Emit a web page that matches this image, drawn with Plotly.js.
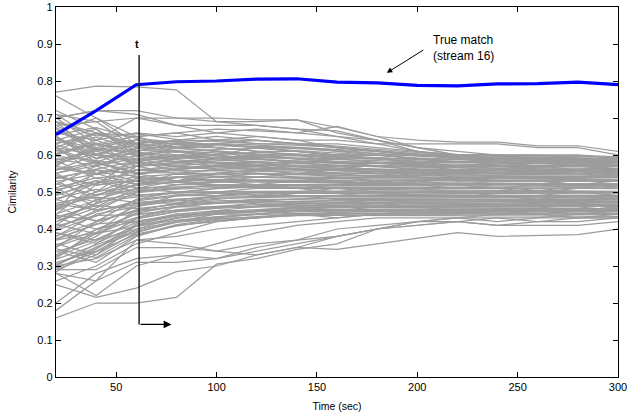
<!DOCTYPE html>
<html>
<head>
<meta charset="utf-8">
<script src="https://cdn.plot.ly/plotly-3.0.1.min.js"></script>
<style>html,body{margin:0;padding:0;background:#fff;}#chart{width:629px;height:419px;}</style>
</head>
<body>
<div id="chart"></div>
<script>
// Time axis (sec)
const time = [20, 40, 60, 80, 100, 120, 140, 160, 180, 200, 220, 240, 260, 280, 300];

// True match (stream 16)
const trueMatch = [0.655, 0.72, 0.79, 0.798, 0.80, 0.805, 0.806, 0.797, 0.795, 0.788, 0.787, 0.792, 0.793, 0.797, 0.79];

// Other (non-matching) streams
const otherStreams = [
  // high outliers
  [.77,.786,.784,.776,.69,.68,.67,.665,.64,.61,.60,.59,.59,.58,.58],
  [.76,.70,.63,.62,.63,.62,.61,.60,.60,.59,.58,.58,.57,.57,.57],
  [.70,.72,.72,.70,.69,.69,.695,.675,.65,.64,.635,.635,.625,.625,.61],
  [.71,.69,.70,.70,.70,.695,.695,.66,.64,.62,.60,.59,.59,.58,.58],
  [.69,.66,.65,.66,.67,.665,.66,.677,.65,.62,.60,.60,.60,.60,.595],
  [.70,.72,.71,.68,.68,.68,.67,.65,.63,.63,.63,.63,.62,.62,.60],
  [.72,.67,.60,.62,.63,.62,.61,.60,.60,.59,.58,.58,.58,.57,.57],
  [.68,.69,.62,.64,.65,.64,.63,.62,.61,.60,.60,.59,.59,.59,.58],
  [.71,.64,.66,.65,.66,.67,.66,.65,.64,.62,.61,.60,.60,.60,.59],
  [.66,.70,.65,.66,.64,.65,.64,.64,.63,.61,.59,.59,.58,.58,.58],
  [.64,.67,.61,.63,.63,.64,.63,.63,.62,.61,.60,.60,.60,.59,.59],
  [.69,.60,.64,.62,.62,.61,.61,.60,.60,.59,.58,.58,.58,.58,.57],
  [.60,.64,.70,.68,.66,.65,.64,.62,.61,.60,.59,.59,.59,.58,.58],
  // main band
  [.62,.60,.63,.64,.62,.61,.60,.60,.59,.58,.58,.59,.58,.58,.57],
  [.58,.62,.60,.61,.60,.62,.61,.60,.59,.59,.58,.58,.59,.58,.58],
  [.55,.50,.57,.58,.59,.60,.60,.58,.57,.57,.56,.57,.57,.56,.56],
  [.50,.55,.58,.56,.57,.56,.57,.57,.56,.55,.56,.55,.55,.56,.55],
  [.45,.50,.52,.55,.55,.56,.55,.55,.54,.55,.55,.54,.54,.54,.55],
  [.40,.45,.50,.52,.53,.54,.54,.53,.53,.53,.54,.53,.53,.53,.53],
  [.35,.42,.48,.50,.51,.52,.52,.52,.52,.52,.51,.52,.52,.51,.52],
  [.33,.38,.45,.47,.49,.50,.50,.51,.50,.50,.50,.50,.51,.50,.50],
  [.30,.36,.43,.46,.47,.48,.48,.49,.49,.49,.49,.49,.49,.49,.49],
  [.31,.34,.40,.43,.45,.46,.47,.47,.48,.48,.48,.48,.47,.48,.48],
  [.36,.33,.41,.44,.45,.45,.46,.46,.47,.47,.47,.46,.47,.47,.46],
  [.32,.40,.42,.44,.44,.45,.45,.46,.46,.46,.46,.46,.46,.45,.46],
  [.65,.58,.55,.56,.54,.55,.54,.54,.53,.53,.52,.53,.53,.52,.52],
  [.60,.63,.65,.62,.63,.62,.62,.61,.60,.60,.59,.59,.59,.59,.59],
  [.64,.60,.58,.60,.58,.57,.58,.57,.56,.56,.56,.56,.56,.56,.57],
  [.57,.55,.52,.54,.53,.52,.52,.52,.53,.52,.52,.51,.51,.51,.51],
  [.53,.48,.49,.50,.50,.49,.50,.50,.50,.49,.49,.49,.48,.49,.48],
  [.48,.45,.47,.48,.47,.48,.47,.48,.48,.47,.47,.47,.47,.47,.47],
  [.44,.52,.53,.52,.52,.51,.52,.51,.51,.51,.51,.51,.50,.50,.50],
  [.42,.47,.55,.56,.57,.56,.56,.55,.55,.55,.54,.54,.54,.54,.54],
  [.38,.44,.46,.49,.49,.50,.49,.49,.50,.50,.50,.49,.49,.50,.49],
  [.66,.64,.60,.59,.61,.60,.59,.59,.58,.57,.57,.57,.57,.57,.56],
  [.68,.62,.64,.63,.64,.63,.63,.62,.61,.60,.60,.60,.59,.59,.59],
  [.63,.66,.62,.61,.59,.58,.57,.57,.57,.56,.56,.56,.56,.55,.56],
  [.59,.57,.61,.58,.57,.57,.56,.56,.55,.55,.55,.55,.55,.55,.54],
  [.56,.60,.56,.57,.56,.55,.55,.54,.54,.54,.53,.53,.53,.53,.53],
  [.52,.57,.54,.53,.54,.53,.53,.53,.52,.52,.52,.52,.52,.52,.52],
  [.49,.53,.50,.51,.52,.51,.51,.51,.51,.51,.50,.50,.50,.51,.51],
  [.46,.42,.45,.46,.46,.47,.47,.47,.48,.48,.48,.48,.48,.48,.48],
  [.43,.40,.44,.45,.46,.46,.46,.47,.47,.46,.46,.46,.46,.46,.45],
  [.39,.37,.40,.42,.43,.44,.45,.45,.45,.45,.45,.45,.44,.44,.44],
  [.34,.31,.38,.41,.42,.43,.44,.44,.44,.44,.44,.44,.44,.43,.43],
  [.29,.33,.39,.42,.44,.44,.45,.45,.46,.46,.45,.45,.45,.45,.44],
  [.61,.66,.63,.62,.61,.60,.59,.58,.58,.57,.57,.58,.57,.57,.58],
  [.57,.63,.61,.63,.62,.61,.60,.59,.59,.58,.59,.58,.58,.58,.58],
  [.54,.52,.59,.60,.61,.59,.58,.58,.57,.58,.57,.57,.58,.57,.57],
  [.51,.46,.51,.53,.55,.54,.55,.56,.55,.56,.55,.56,.55,.55,.56],
  [.47,.49,.53,.54,.53,.53,.53,.54,.54,.54,.53,.54,.54,.54,.54],
  [.41,.48,.51,.50,.50,.51,.51,.50,.51,.51,.51,.51,.52,.52,.51],
  [.37,.39,.47,.47,.48,.49,.49,.49,.49,.50,.50,.50,.50,.50,.50],
  [.62,.55,.57,.59,.60,.59,.58,.58,.58,.58,.57,.57,.57,.57,.57],
  [.67,.61,.59,.57,.58,.58,.57,.56,.56,.55,.55,.55,.56,.56,.55],
  [.70,.63,.57,.55,.56,.57,.56,.55,.55,.54,.54,.54,.54,.53,.53],
  [.55,.58,.62,.60,.59,.59,.58,.57,.57,.57,.57,.57,.56,.56,.56],
  [.45,.56,.55,.53,.52,.52,.53,.53,.52,.53,.53,.53,.53,.52,.53],
  [.613,.574,.598,.612,.605,.596,.589,.583,.579,.572,.571,.568,.566,.565,.563],
  [.587,.611,.624,.618,.611,.603,.598,.594,.588,.584,.581,.579,.577,.576,.574],
  [.536,.562,.584,.593,.587,.582,.576,.571,.566,.563,.561,.559,.558,.556,.557],
  [.512,.538,.546,.562,.568,.564,.561,.558,.554,.552,.549,.548,.547,.546,.545],
  [.478,.524,.541,.548,.543,.539,.537,.536,.535,.534,.533,.531,.532,.531,.530],
  [.455,.493,.517,.528,.534,.529,.526,.524,.523,.521,.522,.521,.519,.518,.519],
  [.427,.468,.503,.512,.517,.514,.512,.509,.507,.506,.505,.504,.505,.503,.502],
  [.402,.446,.476,.489,.496,.498,.497,.495,.494,.493,.492,.491,.490,.489,.488],
  [.381,.419,.452,.468,.476,.479,.481,.482,.481,.480,.479,.479,.478,.477,.476],
  [.356,.398,.431,.452,.461,.466,.468,.469,.470,.470,.469,.468,.467,.467,.466],
  [.338,.372,.418,.437,.447,.453,.457,.459,.459,.458,.457,.456,.456,.455,.455],
  [.318,.357,.396,.421,.433,.441,.446,.448,.449,.448,.447,.447,.446,.446,.447],
  [.647,.603,.586,.597,.602,.607,.603,.598,.591,.586,.583,.581,.579,.578,.576],
  [.632,.648,.613,.607,.615,.618,.612,.605,.597,.592,.588,.586,.585,.583,.582],
  [.596,.585,.571,.579,.584,.588,.583,.576,.571,.567,.565,.563,.561,.561,.560],
  [.565,.547,.559,.566,.571,.573,.569,.565,.561,.557,.556,.554,.553,.551,.551],
  [.544,.518,.532,.541,.548,.551,.548,.545,.542,.540,.539,.537,.537,.536,.535],
  [.523,.491,.507,.519,.527,.531,.529,.527,.526,.525,.524,.523,.522,.523,.522],
  [.497,.473,.486,.498,.509,.513,.514,.513,.512,.511,.511,.510,.509,.510,.509],
  [.468,.452,.465,.479,.489,.494,.496,.497,.497,.497,.496,.496,.495,.496,.495],
  [.437,.423,.447,.461,.471,.477,.481,.483,.484,.484,.484,.484,.483,.483,.483],
  [.413,.387,.428,.447,.457,.463,.467,.471,.472,.473,.473,.473,.472,.472,.471],
  [.389,.361,.409,.429,.441,.449,.455,.458,.461,.462,.462,.462,.461,.461,.461],
  [.346,.323,.383,.412,.426,.434,.441,.445,.448,.451,.452,.452,.451,.451,.451],
  [.664,.627,.641,.629,.625,.622,.617,.611,.603,.597,.593,.591,.589,.587,.586],
  [.651,.589,.617,.624,.631,.627,.621,.616,.609,.601,.596,.594,.592,.591,.590],
  [.621,.657,.627,.613,.597,.593,.591,.588,.585,.581,.579,.577,.575,.574,.573],
  [.604,.632,.596,.587,.579,.575,.573,.570,.568,.566,.564,.563,.562,.561,.561],
  [.578,.603,.577,.569,.563,.561,.559,.557,.556,.555,.553,.552,.552,.551,.550],
  [.559,.582,.553,.551,.549,.547,.546,.545,.545,.544,.543,.542,.542,.541,.541],
  [.539,.559,.528,.531,.533,.533,.533,.533,.532,.532,.531,.530,.530,.529,.529],
  [.506,.531,.511,.514,.516,.517,.518,.518,.517,.517,.517,.516,.516,.516,.515],
  [.483,.507,.492,.497,.501,.502,.503,.503,.503,.503,.503,.502,.502,.502,.501],
  [.461,.486,.471,.481,.486,.488,.489,.489,.489,.489,.489,.488,.488,.488,.487],
  [.432,.463,.455,.466,.472,.474,.476,.476,.477,.477,.476,.476,.476,.475,.475],
  [.408,.437,.438,.451,.458,.462,.464,.465,.465,.465,.465,.464,.464,.464,.463],
  [.371,.414,.421,.436,.444,.449,.452,.453,.454,.454,.454,.453,.453,.452,.452],
  [.329,.388,.407,.424,.433,.439,.442,.443,.443,.443,.442,.441,.441,.440,.440],
  [.302,.351,.392,.418,.428,.433,.436,.437,.437,.437,.436,.436,.435,.435,.434],
  [.284,.347,.414,.435,.446,.453,.458,.461,.463,.464,.465,.465,.465,.465,.465],
  [.688,.652,.658,.642,.636,.631,.627,.621,.612,.604,.599,.596,.594,.592,.591],
  [.674,.614,.633,.637,.641,.639,.632,.624,.615,.607,.602,.599,.597,.596,.594],
  [.655,.674,.645,.634,.628,.624,.619,.613,.604,.598,.594,.592,.590,.588,.587],
  [.628,.592,.606,.594,.594,.593,.592,.591,.589,.588,.587,.586,.585,.585,.584],
  [.573,.616,.608,.598,.591,.587,.583,.581,.578,.576,.574,.573,.572,.571,.571],
  [.551,.571,.591,.583,.577,.571,.567,.564,.562,.559,.558,.557,.556,.555,.555],
  [.528,.548,.569,.576,.573,.568,.563,.559,.556,.554,.552,.551,.550,.549,.548],
  [.492,.524,.559,.557,.558,.556,.553,.551,.548,.546,.545,.544,.543,.542,.542],
  [.463,.501,.537,.541,.541,.541,.540,.539,.538,.537,.536,.535,.534,.534,.533],
  [.441,.477,.521,.526,.527,.527,.527,.526,.525,.525,.524,.524,.523,.523,.522],
  [.419,.457,.498,.508,.512,.513,.513,.513,.513,.512,.512,.511,.511,.511,.510],
  [.396,.435,.479,.492,.497,.499,.500,.500,.500,.500,.499,.499,.499,.498,.498],
  [.374,.412,.461,.476,.483,.486,.487,.487,.487,.487,.487,.487,.486,.486,.486],
  [.352,.388,.443,.461,.469,.473,.475,.476,.476,.476,.476,.475,.475,.475,.474],
  [.326,.367,.427,.447,.456,.461,.463,.464,.465,.465,.465,.464,.464,.464,.463],
  [.305,.346,.408,.431,.441,.447,.451,.453,.454,.454,.454,.454,.453,.453,.453],
  [.294,.338,.386,.408,.423,.431,.437,.441,.443,.444,.444,.444,.443,.443,.443],
  [.642,.617,.579,.583,.591,.597,.598,.596,.592,.589,.586,.585,.583,.582,.581],
  [.618,.578,.551,.561,.573,.579,.581,.579,.576,.574,.572,.571,.570,.569,.568],
  [.585,.537,.522,.538,.551,.559,.562,.562,.561,.560,.559,.558,.557,.556,.556],
  // low outliers
  [.16,.20,.20,.215,.305,.32,.345,.36,.40,.42,.43,.44,.44,.45,.46],
  [.25,.215,.24,.285,.30,.33,.35,.38,.40,.41,.42,.43,.43,.44,.44],
  [.18,.26,.37,.36,.34,.33,.35,.345,.36,.375,.39,.38,.383,.385,.40],
  [.28,.26,.31,.31,.32,.34,.36,.38,.40,.42,.43,.42,.43,.43,.44],
  [.29,.29,.35,.35,.34,.36,.37,.38,.40,.41,.42,.41,.42,.42,.43],
  [.20,.28,.32,.33,.32,.35,.37,.40,.41,.42,.42,.41,.41,.41,.42],
  [.30,.32,.37,.38,.40,.41,.42,.43,.44,.44,.44,.45,.45,.44,.45],
  [.26,.30,.36,.39,.42,.43,.44,.43,.44,.45,.45,.44,.45,.45,.45],
  [.28,.22,.30,.33,.36,.39,.41,.42,.43,.43,.43,.43,.42,.43,.43]
];

const grayColor = '#9c9c9c';
const traces = otherStreams.map(vals => ({
  x: time, y: vals, type: 'scatter', mode: 'lines',
  line: {color: grayColor, width: 1.25}, hoverinfo: 'skip', showlegend: false
}));
traces.push({
  x: time, y: trueMatch, type: 'scatter', mode: 'lines',
  line: {color: '#0000ff', width: 3.2}, showlegend: false
});

const fontFam = 'Liberation Sans, Arial, Helvetica, sans-serif';
const axisCommon = {
  showgrid: false, zeroline: false, showline: true, linecolor: '#000', linewidth: 1.2,
  mirror: 'ticks', ticks: 'inside', ticklen: 5, tickcolor: '#000', tickwidth: 1,
  ticklabeloverflow: 'allow',
  tickfont: {family: fontFam, size: 11, color: '#000'}
};

const layout = {
  width: 629, height: 419,
  margin: {l: 56, r: 11, t: 7, b: 42},
  paper_bgcolor: '#fff', plot_bgcolor: '#fff',
  xaxis: Object.assign({}, axisCommon, {
    range: [20, 300], tickvals: [50, 100, 150, 200, 250, 300],
    title: {text: 'Time (sec)', font: {family: fontFam, size: 10.5, color: '#000'}, standoff: 10}
  }),
  yaxis: Object.assign({}, axisCommon, {
    range: [0, 1], dtick: 0.1, tick0: 0,
    title: {text: 'Cimilarity', font: {family: fontFam, size: 10.5, color: '#000'}, standoff: 18}
  }),
  shapes: [
    {type: 'line', xref: 'x', yref: 'y', x0: 61.4, x1: 61.4, y0: 0.87, y1: 0.142,
     line: {color: '#222', width: 1.5}}
  ],
  annotations: [
    {x: 60.5, y: 0.9, xref: 'x', yref: 'y', text: '<b>t</b>', showarrow: false,
     font: {family: fontFam, size: 11, color: '#000'}},
    {x: 77.5, y: 0.142, ax: 61.4, ay: 0.142, xref: 'x', yref: 'y', axref: 'x', ayref: 'y',
     text: '', showarrow: true, arrowhead: 2, arrowsize: 1.3, arrowwidth: 1.2, arrowcolor: '#000'},
    {x: 184.8, y: 0.822, ax: 203.7, ay: 0.886, xref: 'x', yref: 'y', axref: 'x', ayref: 'y',
     text: '', showarrow: true, arrowhead: 2, arrowsize: 1.1, arrowwidth: 1, arrowcolor: '#000'},
    {x: 206.8, y: 0.888, xref: 'x', yref: 'y', xanchor: 'left', yanchor: 'middle', align: 'left',
     text: 'True match<br>(stream 16)', showarrow: false,
     font: {family: fontFam, size: 12, color: '#000'}}
  ]
};

Plotly.newPlot('chart', traces, layout, {staticPlot: true, displayModeBar: false});
</script>
</body>
</html>
